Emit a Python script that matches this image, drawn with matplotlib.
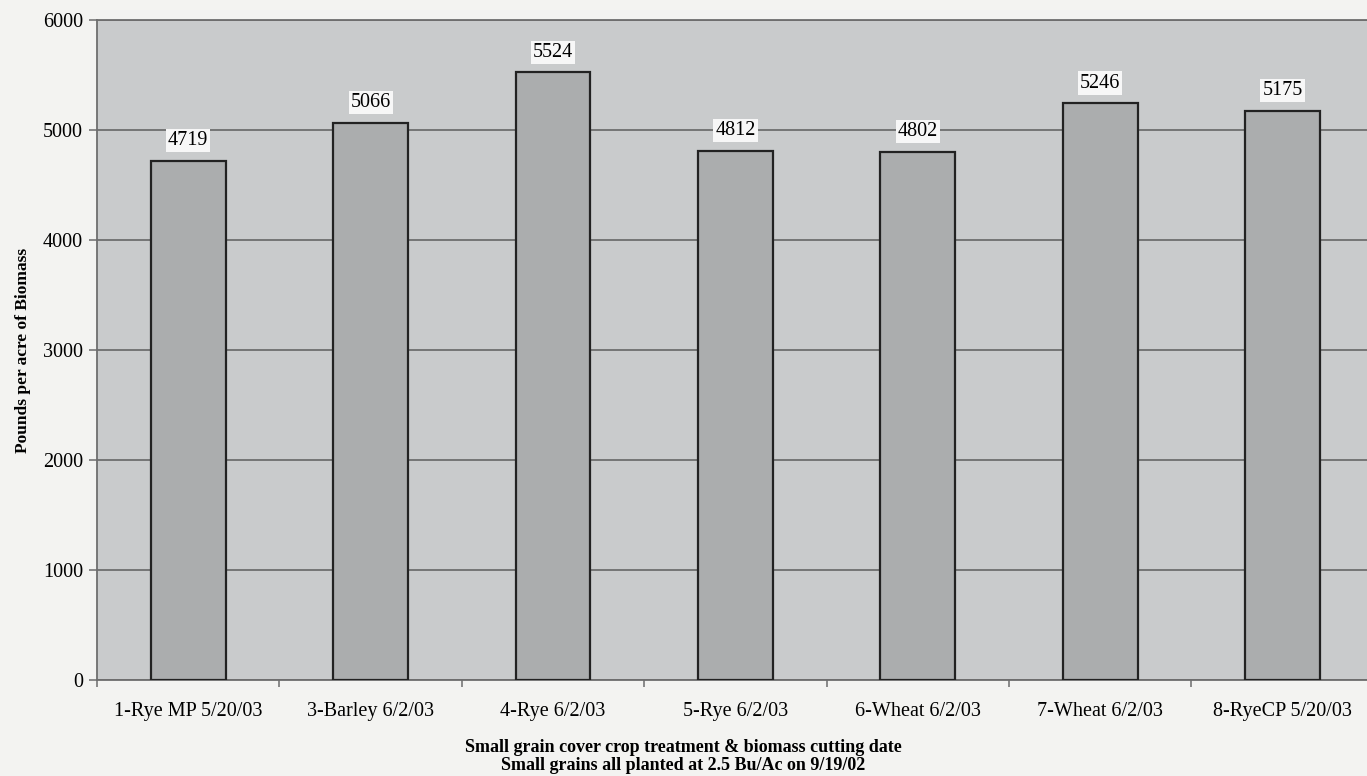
import matplotlib.pyplot as plt
import numpy as np

treatments = ['1-Rye MP 5/20/03', '3-Barley 6/2/03', '4-Rye 6/2/03', '5-Rye 6/2/03',
              '6-Wheat 6/2/03', '7-Wheat 6/2/03', '8-RyeCP 5/20/03']
biomass = [4719, 5066, 5524, 4812, 4802, 5246, 5175]
yticks = [0, 1000, 2000, 3000, 4000, 5000, 6000]

plt.rcParams['font.family'] = ['Liberation Serif', 'DejaVu Serif']

fig = plt.figure(figsize=(13.67, 7.76), dpi=100, facecolor='#f3f3f1')
ax = fig.add_axes([0.071, 0.1237, 0.934, 0.8505])
ax.set_facecolor('#c9cbcc')

x = np.arange(len(treatments))
ax.bar(x, biomass, width=0.41, color='#abadae', edgecolor='#222222', linewidth=1.6, zorder=3)

for xi, v in zip(x, biomass):
    ax.text(xi, v + 95, str(v), ha='center', va='bottom', fontsize=14.5, zorder=4,
            bbox=dict(facecolor='#f7f7f7', edgecolor='none', pad=1.5))

ax.set_xlim(-0.5, len(treatments) - 0.5)
ax.set_ylim(0, 6000)
ax.set_yticks(yticks)
ax.yaxis.grid(True, color='#6e6e6e', linewidth=1.3, zorder=1)
ax.set_axisbelow(True)

# category labels sit between the boundary ticks
ax.set_xticks(x)
ax.set_xticklabels(treatments, fontsize=14.5)
ax.tick_params(axis='x', length=0, pad=16)
ax.set_xticks(np.arange(len(treatments) + 1) - 0.5, minor=True)
ax.tick_params(axis='x', which='minor', length=5, color='#777777', width=1.2)
ax.tick_params(axis='y', labelsize=14.5, length=6, color='#777777', width=1.2, pad=4)

for side in ['left', 'bottom', 'top']:
    ax.spines[side].set_color('#6e6e6e')
    ax.spines[side].set_linewidth(1.3)
ax.spines['right'].set_visible(False)

ax.set_ylabel('Pounds per acre of Biomass', fontsize=12.5, fontweight='bold', labelpad=9)
fig.text(0.5, 0.037, 'Small grain cover crop treatment & biomass cutting date',
         ha='center', va='center', fontsize=13, fontweight='bold')
fig.text(0.5, 0.013, 'Small grains all planted at 2.5 Bu/Ac on 9/19/02',
         ha='center', va='center', fontsize=13, fontweight='bold')

fig.savefig('out.png', dpi=100, facecolor=fig.get_facecolor())
